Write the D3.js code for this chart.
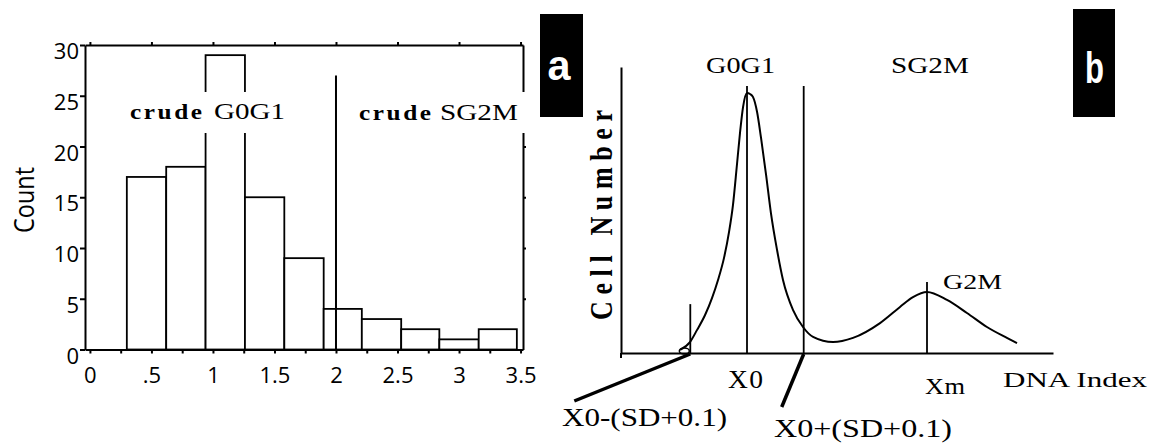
<!DOCTYPE html>
<html>
<head>
<meta charset="utf-8">
<title>Crude G0G1 / SG2M histogram and DNA index model</title>
<script src="https://d3js.org/d3.v7.min.js"></script>
<style>
  body { margin: 0; background: #fff; }
  .axis path, .axis line { stroke: #000; stroke-width: 2; }
  .axis text { fill: #000; }
</style>
</head>
<body>
<script>
// ---- panel a: histogram of DNA index ----
var binEdges = [-0.04, 0.30, 0.62, 0.94, 1.26, 1.58, 1.90, 2.21, 2.53, 2.84, 3.16, 3.47];
var counts   = [0, 17, 18, 29, 15, 9, 4, 3, 2, 1, 2];
var xTicksA = [0, 0.5, 1, 1.5, 2, 2.5, 3, 3.5];
var xTickLabelsA = ["0", ".5", "1", "1.5", "2", "2.5", "3", "3.5"];
var xMinorA = [0, 0.25, 0.5, 0.75, 1, 1.25, 1.5, 1.75, 2, 2.25, 2.5, 2.75, 3, 3.25, 3.5];
var yTicksA = [0, 5, 10, 15, 20, 25, 30];
var cutA = 2.0, cutTopA = 27;

// ---- panel b: model DNA index distribution ----
var dnaIndex   = [0.628, 0.683, 0.722, 0.767, 0.806, 0.839, 0.872, 0.900, 0.922, 0.944, 0.961, 0.978, 1.000,
                  1.017, 1.033, 1.056, 1.078, 1.106, 1.133, 1.167, 1.200, 1.256, 1.311, 1.367, 1.478, 1.589,
                  1.739, 1.850, 1.922, 2.000, 2.111, 2.222, 2.333, 2.444, 2.500];
var cellNumber = [1.2, 4.2, 8.8, 14.6, 21.2, 28.1, 36.5, 46.5, 56.9, 72.3, 84.6, 94.6, 100,
                  99.6, 98.5, 92.7, 82.7, 68.5, 53.8, 39.6, 28.1, 16.5, 10.0, 6.2, 4.2, 5.8,
                  11.5, 17.7, 21.5, 23.5, 20.4, 15.4, 10.0, 5.8, 3.8];
var x0 = 1.0, sdPlus = 0.315, xm = 2.0;
var markersB = [
  { x: x0 - sdPlus, top: 18.8 },
  { x: x0,          top: 102.7 },
  { x: x0 + sdPlus, top: 102.7 },
  { x: xm,          top: 27.3 }
];

var svg = d3.select("body").append("svg")
    .attr("width", 1155)
    .attr("height", 446)
    .style("background", "#fff");

function txt(g, s, x, y, o) {
  var t = g.append("text").attr("x", x).attr("y", y).text(s)
      .style("font-family", o.family)
      .style("font-size", o.size + "px")
      .style("font-weight", o.weight || "normal")
      .style("fill", o.fill || "#000");
  if (o.len) t.attr("textLength", o.len).attr("lengthAdjust", o.adjust || "spacingAndGlyphs");
  if (o.anchor) t.attr("text-anchor", o.anchor);
  return t;
}
// stretched + spaced text (the scan is wider than it is tall)
function wide(g, s, x, y, o) {
  var sx = o.sx || 1.15;
  return g.append("text")
      .attr("transform", "translate(" + x + "," + y + ") scale(" + sx + ",1)")
      .attr("textLength", o.len / sx).attr("lengthAdjust", "spacing")
      .style("font-family", o.family)
      .style("font-size", o.size + "px")
      .style("font-weight", o.weight || "normal")
      .text(s);
}
var SANS = "Open Sans, DejaVu Sans, sans-serif", SERIF = "Liberation Serif, Times New Roman, serif";

// ================= panel a =================
var xa = d3.scaleLinear().domain([-0.04, 3.52]).range([85, 523]);
var ya = d3.scaleLinear().domain([0, 30]).range([349.5, 45]);
var ga = svg.append("g");

ga.append("g").attr("class", "axis").attr("transform", "translate(0,45)")
  .call(d3.axisTop(xa).tickValues(xTicksA).tickSize(3).tickSizeOuter(0).tickFormat(""));
ga.append("g").attr("class", "axis").attr("transform", "translate(523,0)")
  .call(d3.axisRight(ya).tickValues(yTicksA.slice(1, 6)).tickSize(3).tickSizeOuter(0).tickFormat(""));
ga.append("g").attr("class", "axis").attr("transform", "translate(0,349.5)")
  .call(d3.axisBottom(xa).tickValues(xMinorA).tickSize(4).tickSizeOuter(0).tickFormat(""));

var ax = ga.append("g").attr("class", "axis").attr("transform", "translate(0,349.5)")
  .call(d3.axisBottom(xa).tickValues(xTicksA).tickSize(0).tickPadding(18)
    .tickFormat(function(d, i) { return xTickLabelsA[i]; }));
ax.select(".domain").remove();
ax.selectAll("text").style("font-family", SANS).style("font-size", "22px");

var ay = ga.append("g").attr("class", "axis").attr("transform", "translate(85,0)")
  .call(d3.axisLeft(ya).tickValues(yTicksA).tickSize(5).tickSizeOuter(0).tickPadding(1));
ay.selectAll("text").attr("dy", "0.62em").style("font-family", SANS).style("font-size", "22px");

ga.selectAll("rect.bar")
  .data(counts)
  .enter().append("rect")
  .attr("class", "bar")
  .attr("x", function(d, i) { return xa(binEdges[i]); })
  .attr("width", function(d, i) { return xa(binEdges[i + 1]) - xa(binEdges[i]); })
  .attr("y", function(d) { return ya(d); })
  .attr("height", function(d) { return ya(0) - ya(d); })
  .style("fill", "#fff")
  .style("stroke", "#000")
  .style("stroke-width", 1.8);

ga.append("line")
  .attr("x1", xa(cutA)).attr("x2", xa(cutA))
  .attr("y1", ya(cutTopA)).attr("y2", ya(0))
  .style("stroke", "#000").style("stroke-width", 2);

// white patches behind the region labels
ga.append("rect").attr("x", 120).attr("y", 92).attr("width", 175).attr("height", 41).style("fill", "#fff");
ga.append("rect").attr("x", 350).attr("y", 92).attr("width", 180).attr("height", 41).style("fill", "#fff");

wide(ga, "crude", 130, 119, { family: SERIF, size: 22, weight: "bold", len: 72 });
txt(ga, "G0G1", 214, 119, { family: SERIF, size: 24, len: 71 });
wide(ga, "crude", 359, 120, { family: SERIF, size: 22, weight: "bold", len: 72 });
txt(ga, "SG2M", 440, 120, { family: SERIF, size: 24, len: 78 });

ga.append("text")
  .attr("transform", "translate(34,200) rotate(-90) scale(1,1.3)")
  .attr("text-anchor", "middle")
  .attr("textLength", 66).attr("lengthAdjust", "spacingAndGlyphs")
  .style("font-family", SANS).style("font-size", "21px")
  .text("Count");

// panel tag a
ga.append("rect").attr("x", 540).attr("y", 14).attr("width", 43).attr("height", 103).style("fill", "#000");
txt(ga, "a", 559, 80, { family: "Liberation Sans, Arial, sans-serif", size: 42, weight: "bold", fill: "#fff", anchor: "middle", len: 23 });

// ================= panel b =================
var xb = d3.scaleLinear().domain([0.3, 2.7]).range([621, 1053]);
var yb = d3.scaleLinear().domain([0, 110]).range([353, 67]);
var gb = svg.append("g");

gb.append("g").attr("class", "axis").attr("transform", "translate(621,0)")
  .call(d3.axisLeft(yb).tickValues([]).tickSizeOuter(0));
gb.append("g").attr("class", "axis").attr("transform", "translate(0,353)")
  .call(d3.axisBottom(xb).tickValues([]).tickSizeOuter(0));
gb.append("line").attr("x1", 621).attr("x2", 621).attr("y1", 353).attr("y2", 358)
  .style("stroke", "#000").style("stroke-width", 2);

var line = d3.line()
  .x(function(d, i) { return xb(dnaIndex[i]); })
  .y(function(d) { return yb(d); })
  .curve(d3.curveMonotoneX);

gb.append("path")
  .datum(cellNumber)
  .attr("d", line)
  .style("fill", "none")
  .style("stroke", "#000")
  .style("stroke-width", 2);

gb.selectAll("line.marker")
  .data(markersB)
  .enter().append("line")
  .attr("class", "marker")
  .attr("x1", function(d) { return xb(d.x); })
  .attr("x2", function(d) { return xb(d.x); })
  .attr("y1", function(d) { return yb(d.top); })
  .attr("y2", yb(0))
  .style("stroke", "#000")
  .style("stroke-width", 1.8);

// leader lines to the cut labels
var lo = markersB[0].x, hi = markersB[2].x;
gb.append("ellipse").attr("cx", xb(lo) - 6).attr("cy", yb(0) - 2).attr("rx", 5).attr("ry", 3)
  .style("fill", "none").style("stroke", "#000").style("stroke-width", 1.5);
gb.append("line").attr("x1", xb(lo)).attr("y1", yb(0) + 1).attr("x2", xb(lo) - 116).attr("y2", yb(0) + 48)
  .style("stroke", "#000").style("stroke-width", 3.5);
gb.append("line").attr("x1", xb(hi)).attr("y1", yb(0) + 1).attr("x2", xb(hi) - 22).attr("y2", yb(0) + 54)
  .style("stroke", "#000").style("stroke-width", 3.5);

txt(gb, "G0G1", 706, 73, { family: SERIF, size: 24, len: 69 });
txt(gb, "SG2M", 891, 73, { family: SERIF, size: 24, len: 78 });
txt(gb, "G2M", 943, 289, { family: SERIF, size: 21, len: 59 });
wide(gb, "X0", 728, 388, { family: SERIF, size: 25, len: 35, sx: 1.1 });
wide(gb, "Xm", 925, 394, { family: SERIF, size: 24, len: 40, sx: 1.1 });
txt(gb, "DNA Index", 1003, 387, { family: SERIF, size: 22, len: 144 });
txt(gb, "X0-(SD+0.1)", 562, 426, { family: SERIF, size: 25, len: 165 });
txt(gb, "X0+(SD+0.1)", 774, 437, { family: SERIF, size: 25, len: 178 });

gb.append("text")
  .attr("transform", "translate(612,215) rotate(-90) scale(1,1.2)")
  .attr("text-anchor", "middle")
  .attr("textLength", 210).attr("lengthAdjust", "spacing")
  .style("font-family", SERIF).style("font-size", "26px").style("font-weight", "bold")
  .text("Cell Number");

// panel tag b
gb.append("rect").attr("x", 1073).attr("y", 9).attr("width", 42).attr("height", 108).style("fill", "#000");
txt(gb, "b", 1094.5, 83, { family: "Liberation Sans, Arial, sans-serif", size: 45, weight: "bold", fill: "#fff", anchor: "middle", len: 19 });
</script>
</body>
</html>
